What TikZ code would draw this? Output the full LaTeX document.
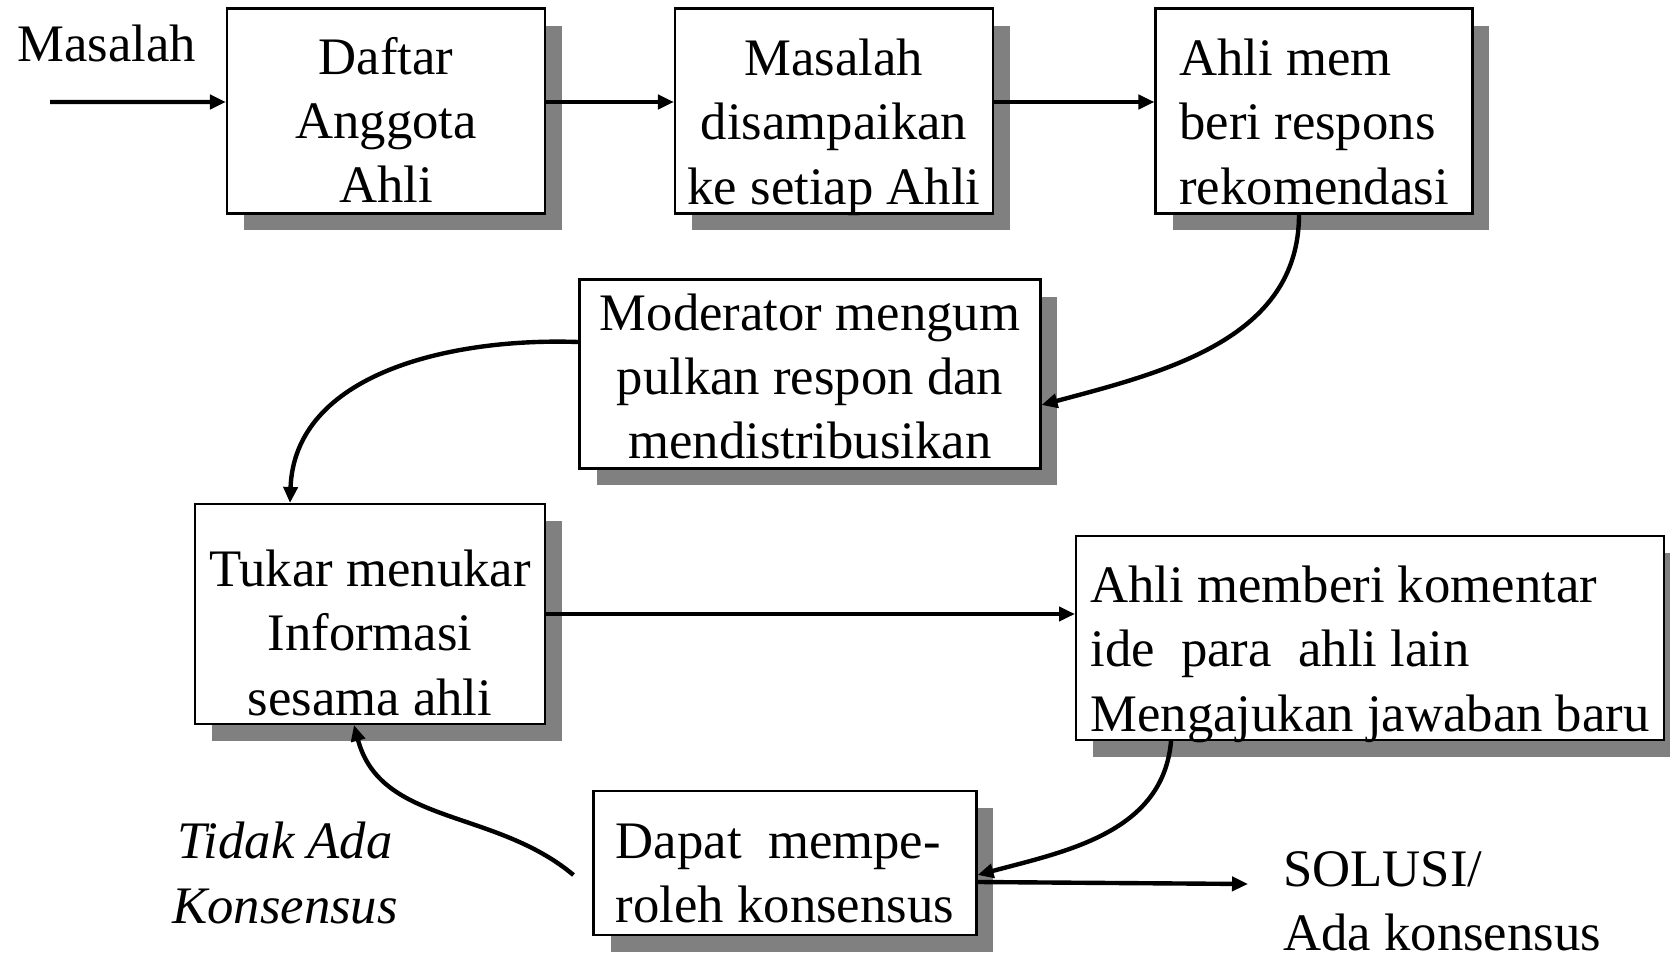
\documentclass[tikz,border=0pt]{standalone}
\usepackage{fontspec}
\setmainfont{Liberation Serif}
\usetikzlibrary{arrows.meta}
\usetikzlibrary{shadows}
\tikzset{box/.style={draw, fill=white, line width=1.2pt, inner sep=0pt,
    drop shadow={shadow xshift=0.34cm, shadow yshift=-0.34cm, fill=black!50, opacity=1}}}
\tikzset{tdown/.style={text height=#1, text depth=0pt}}
\tikzset{arr/.style={-{Triangle[length=0.32cm,width=0.28cm]}, line width=2.5pt}}

\begin{document}
\begin{tikzpicture}[x=0.02cm, y=-0.02cm, font=\fontsize{30}{36.5}\selectfont]
    \useasboundingbox (0,0) rectangle (1670,959);

    \node[box, tdown=104pt, align=center, minimum width=6.36cm, minimum height=4.1cm] at (386,111) (b1){Daftar\\Anggota\\Ahli};
    \node[box, tdown=106pt, align=center, minimum width=6.36cm, minimum height=4.1cm] at (834,111) (b2){Masalah\\disampaikan\\ke setiap Ahli};
    \node[box, tdown=106pt, align=left, minimum width=6.34cm, minimum height=4.1cm] at (1314,111) (b3){Ahli mem\\beri respons\\rekomendasi};

    \node[box, tdown=96pt, align=center, minimum width=9.22cm, minimum height=3.78cm] at (810,374) (b4){Moderator mengum\\pulkan respon dan\\mendistribusikan};

    \node[box, tdown=115pt, align=center, minimum width=7cm, minimum height=4.4cm] at (370,614) (b5){Tukar menukar\\Informasi\\sesama ahli};
    \node[box, tdown=106pt, align=left, minimum width=11.76cm, minimum height=4.08cm] at (1370,638) (b6){Ahli memberi komentar\\ide\ \ para\ \ ahli lain\\Mengajukan jawaban baru};

    \node[box, tdown=68pt, align=left, minimum width=7.66cm, minimum height=2.88cm] at (785,863) (b7){Dapat\ \ mempe-\\roleh konsensus};

    \node at (107,43) (masalah){Masalah};
    \node[align=center, font=\fontsize{30}{36.5}\selectfont\itshape] at (285,873) (tidak){Tidak Ada\\Konsensus};
    \node[align=left, anchor=west, inner sep=0pt] at (1283,901) (sol){SOLUSI/\\Ada konsensus};

    \coordinate (start) at (50,102);

    \draw[arr] (start) -- ([yshift=0.18cm]b1.west);
    \draw[arr] ([yshift=0.18cm]b1.east) -- ([yshift=0.18cm]b2.west);
    \draw[arr] ([yshift=0.18cm]b2.east) -- ([yshift=0.18cm]b3.west);
    \draw[arr] ([xshift=-0.3cm]b3.south) to[out=-90,in=15] ([yshift=-0.62cm]b4.east);
    \draw[arr] ([yshift=0.64cm]b4.west) to[out=178,in=88] ([xshift=-1.6cm]b5.north);
    \draw[arr] (b5.east) -- (b5.east -| b6.west);
    \draw[arr] ([xshift=-3.98cm]b6.south) to[out=-95,in=15] ([yshift=-0.24cm]b7.east);
    \draw[arr] ([yshift=-0.38cm]b7.east) -- ([xshift=-0.7cm,yshift=0.34cm]sol.west);
    \draw[arr] ([xshift=-0.38cm,yshift=-0.24cm]b7.west) to[out=140,in=-75] ([xshift=-0.32cm]b5.south);
\end{tikzpicture}
\end{document}
